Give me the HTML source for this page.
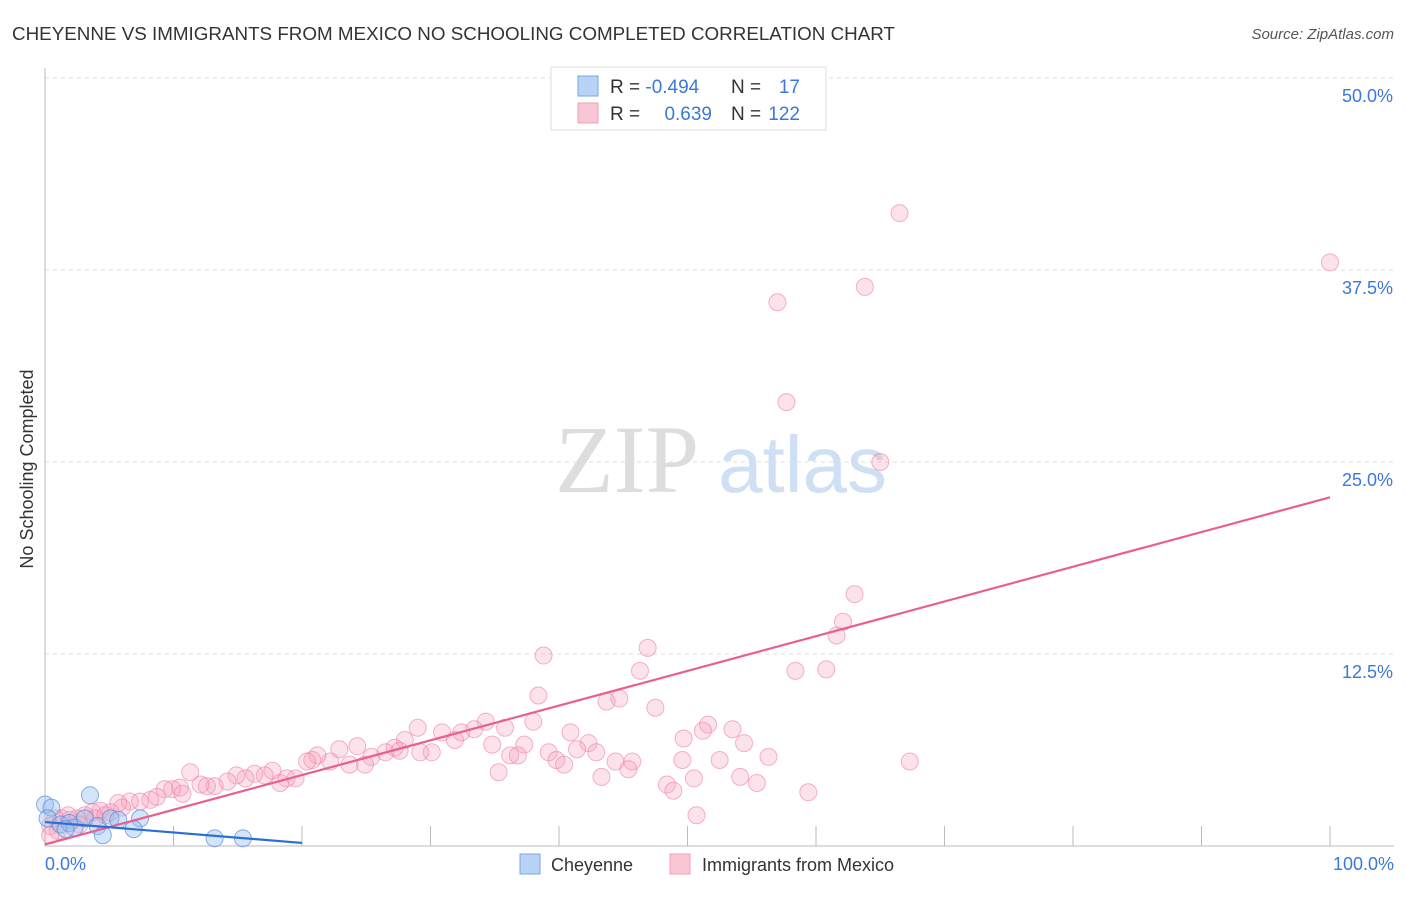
<!DOCTYPE html>
<html><head><meta charset="utf-8"><style>
body{margin:0;background:#fff;font-family:"Liberation Sans",sans-serif;}
</style></head><body>
<svg width="1406" height="892" xmlns="http://www.w3.org/2000/svg">
<text x="12" y="40" font-size="18" fill="#333" textLength="883" lengthAdjust="spacingAndGlyphs">CHEYENNE VS IMMIGRANTS FROM MEXICO NO SCHOOLING COMPLETED CORRELATION CHART</text>
<text x="1394" y="39" font-size="15" fill="#555" font-style="italic" text-anchor="end">Source: ZipAtlas.com</text>
<g id="grid"></g>
<text x="555" y="492" font-size="96" font-family="Liberation Serif,serif" fill="#ddd">ZIP</text>
<text x="718" y="492" font-size="80" fill="#cfe0f4">atlas</text>
<line x1="45" y1="68" x2="45" y2="846" stroke="#bbb"/>
<line x1="45" y1="846" x2="1394" y2="846" stroke="#bbb"/>
<g id="ticks"></g>
<g id="pink"></g>
<g id="blue"></g>
<g id="lines"></g>
<text x="20" y="456" font-size="18" fill="#333" transform="rotate(-90 33 456)" text-anchor="middle">No Schooling Completed</text>
<text x="45" y="870" font-size="18" fill="#3b78d8">0.0%</text>
<text x="1394" y="870" font-size="18" fill="#3b78d8" text-anchor="end">100.0%</text>
<g>
<rect x="551" y="67" width="275" height="63" fill="#fff" stroke="#ddd"/>
<rect x="578" y="76" width="20" height="20" fill="#b8d3f5" stroke="#7aa6e6"/>
<rect x="578" y="103" width="20" height="20" fill="#f9c6d4" stroke="#efa0b8"/>
<text x="610" y="93" font-size="19" fill="#333">R = <tspan fill="#3b78d8">-0.494</tspan></text>
<text x="731" y="93" font-size="19" fill="#333">N = </text><text x="800" y="93" font-size="19" fill="#3b78d8" text-anchor="end">17</text>
<text x="610" y="120" font-size="19" fill="#333">R = </text><text x="712" y="120" font-size="19" fill="#3b78d8" text-anchor="end">0.639</text>
<text x="731" y="120" font-size="19" fill="#333">N = </text><text x="800" y="120" font-size="19" fill="#3b78d8" text-anchor="end">122</text>
</g>
<g>
<rect x="520" y="854" width="20" height="20" fill="#b8d3f5" stroke="#7aa6e6"/>
<text x="551" y="871" font-size="18" fill="#333">Cheyenne</text>
<rect x="670" y="854" width="20" height="20" fill="#f9c6d4" stroke="#efa0b8"/>
<text x="702" y="871" font-size="18" fill="#333">Immigrants from Mexico</text>
</g>
</svg>
<script>
const yTicks=[12.5,25,37.5,50];
const yTickLabels=["12.5%","25.0%","37.5%","50.0%"];
const xTicks=[0,10,20,30,40,50,60,70,80,90,100];
const pinkX=[66.5,100,57.0,63.8,57.7,65.0,63.0,62.1,61.6,58.4,60.8,67.3,38.8,46.9,46.3,38.4,44.7,43.7,47.5,38.0,34.3,35.8,29.0,33.4,32.4,30.9,31.9,34.8,37.3,40.9,51.6,51.2,53.5,49.7,54.4,42.3,39.2,41.4,42.9,36.2,36.8,39.8,40.4,44.4,45.7,45.4,49.6,52.5,56.3,43.3,35.3,54.1,50.5,55.4,48.4,48.9,59.4,50.7,28.0,27.2,26.5,30.1,29.2,27.6,24.3,25.4,24.9,23.7,22.9,22.2,21.2,20.8,20.4,19.5,18.8,17.7,18.3,17.1,16.3,15.6,14.9,14.2,13.2,12.6,12.1,11.3,10.5,9.9,9.3,10.7,8.7,8.2,7.4,6.6,6.0,5.7,5.1,4.3,3.7,3.1,2.5,1.9,1.3,0.8,0.4,1.0,1.8,2.7,3.9,4.7,0.4];
const pinkY=[41.2,38.0,35.4,36.4,28.9,25.0,16.4,14.6,13.7,11.4,11.5,5.5,12.4,12.9,11.4,9.8,9.6,9.4,9.0,8.1,8.1,7.7,7.7,7.6,7.4,7.4,6.9,6.6,6.6,7.4,7.9,7.5,7.6,7.0,6.7,6.7,6.1,6.3,6.1,5.9,5.9,5.6,5.3,5.5,5.5,5.0,5.6,5.6,5.8,4.5,4.8,4.5,4.4,4.1,4.0,3.6,3.5,2.0,6.9,6.4,6.1,6.1,6.1,6.2,6.5,5.8,5.3,5.3,6.3,5.5,5.9,5.6,5.5,4.4,4.4,4.9,4.1,4.6,4.7,4.4,4.6,4.2,3.9,3.9,4.0,4.8,3.8,3.7,3.7,3.4,3.2,3.0,2.9,2.9,2.5,2.8,2.2,2.3,2.2,2.0,1.8,1.7,1.8,1.8,1.3,1.0,2.0,1.4,1.8,2.0,0.7];
const blueX=[0,0.5,3.5,0.2,1.2,1.9,2.3,3.1,4.1,4.5,5.1,5.7,7.4,6.9,13.2,15.4,1.6];
const blueY=[2.7,2.5,3.3,1.8,1.4,1.5,1.2,1.8,1.3,0.7,1.8,1.7,1.8,1.1,0.5,0.5,1.1];
const pinkTrend=[[0,0.1],[100,22.7]];
const blueTrend=[[0,1.56],[20,0.2]];
const X=v=>45+v*12.85, Y=v=>846-v*15.36;
const NS="http://www.w3.org/2000/svg";
function mk(t,a,p){const e=document.createElementNS(NS,t);for(const k in a)e.setAttribute(k,a[k]);p.appendChild(e);return e;}
const grid=document.getElementById('grid');
yTicks.forEach((v,i)=>{
  const l=mk('line',{x1:45,x2:1394,y1:Y(v),y2:Y(v),stroke:'#ddd','stroke-dasharray':'4,4'},grid);
  
  
  const t=mk('text',{x:1393,y:Y(v)+24,'font-size':18,fill:'#3b78d8','text-anchor':'end'},grid);
  t.textContent=yTickLabels[i];
  
  
});
const tk=document.getElementById('ticks');
xTicks.forEach(v=>{
  const l=mk('line',{x1:X(v),x2:X(v),y1:826,y2:846,stroke:'#bbb'},tk);
  
  
});
const pg=document.getElementById('pink');
pinkX.forEach((v,i)=>{
  const c=mk('circle',{cx:X(v),cy:Y(pinkY[i]),r:8.5,fill:'rgba(244,160,185,0.3)',stroke:'rgba(236,130,165,0.6)','stroke-width':1},pg);
  
  
});
const bg=document.getElementById('blue');
blueX.forEach((v,i)=>{
  const c=mk('circle',{cx:X(v),cy:Y(blueY[i]),r:8.5,fill:'rgba(150,190,240,0.4)',stroke:'rgba(90,140,220,0.7)','stroke-width':1},bg);
  
  
});
const lg=document.getElementById('lines');
const pl=mk('line',{x1:X(pinkTrend[0][0]),y1:Y(pinkTrend[0][1]),x2:X(pinkTrend[1][0]),y2:Y(pinkTrend[1][1]),stroke:'#e8608f','stroke-width':2.2},lg);


const bl=mk('line',{x1:X(blueTrend[0][0]),y1:Y(blueTrend[0][1]),x2:X(blueTrend[1][0]),y2:Y(blueTrend[1][1]),stroke:'#2a6fd6','stroke-width':2.2},lg);


</script>
</body></html>
